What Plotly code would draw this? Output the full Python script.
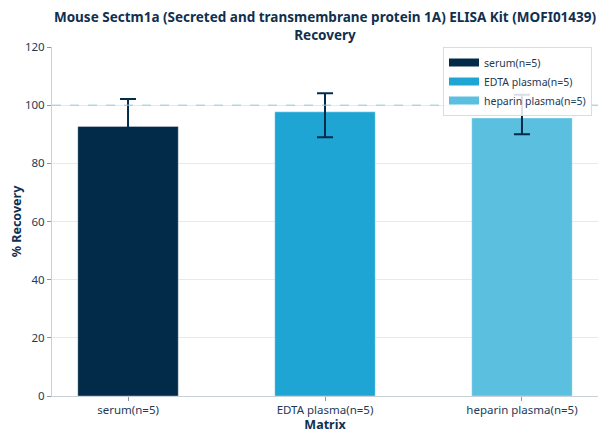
import plotly.graph_objects as go

categories = ["serum(n=5)", "EDTA plasma(n=5)", "heparin plasma(n=5)"]
recovery = [92.7, 97.7, 95.6]
err_plus = [9.4, 6.4, 8.0]
err_minus = [9.4, 8.7, 5.6]
colors = ["#022b4a", "#1fa5d3", "#5bbfe0"]

fig = go.Figure()
for i, c in enumerate(categories):
    fig.add_trace(go.Bar(
        x=[c], y=[recovery[i]], name=c, showlegend=False,
        marker=dict(color=colors[i], line=dict(color="rgba(255,255,255,0.35)", width=1)),
        width=0.51,
        error_y=dict(type="data", symmetric=False, array=[err_plus[i]], arrayminus=[err_minus[i]],
                     color="#032b4a", thickness=2, width=8),
    ))
# legend swatches (wide rectangles)
for i, c in enumerate(categories):
    fig.add_trace(go.Scatter(x=[None], y=[None], mode="lines", name=c,
                             line=dict(color=colors[i], width=8)))

fig.add_hline(y=100, line=dict(color="#9cc6dc", width=1, dash="dash"))

fig.update_layout(
    width=592, height=425,
    margin=dict(l=44, r=2, t=39, b=37),
    paper_bgcolor="white", plot_bgcolor="white",
    font=dict(family="Noto Sans", color="#1d3a57", size=12),
    title=dict(text="<b>Mouse Sectm1a (Secreted and transmembrane protein 1A) ELISA Kit (MOFI01439)<br>Recovery</b>",
               x=0.5, xanchor="center", xref="paper", y=0.966, yanchor="middle", yref="container",
               font=dict(size=13.5, color="#10304f", family="Noto Sans")),
    showlegend=True,
    legend=dict(x=0.989, y=1.0, xanchor="right", yanchor="top",
                bgcolor="rgba(255,255,255,0.85)", bordercolor="#d5dde5", borderwidth=1,
                font=dict(size=10.5, color="#1d3a57"), tracegroupgap=0),
    barmode="overlay",
)
fig.update_xaxes(title=dict(text="<b>Matrix</b>", font=dict(size=12.5, color="#10304f"), standoff=2),
                 range=[-0.386, 2.386], automargin=False,
                 showline=True, linecolor="#c8d0d8", ticks="outside", ticklen=4, tickcolor="#8a98a6",
                 ticklabelstandoff=-1,
                 tickfont=dict(size=11.5, color="#1d3a57"))
fig.update_yaxes(title=dict(text="<b>% Recovery</b>", font=dict(size=12.5, color="#10304f"), standoff=5),
                 range=[0, 120], dtick=20, showline=True, linecolor="#c8d0d8", automargin=False,
                 ticks="outside", ticklen=4, tickcolor="#8a98a6",
                 gridcolor="#e4eaf0", zeroline=False,
                 tickfont=dict(size=11.5, color="#1d3a57"))

fig.write_html("out.html")
